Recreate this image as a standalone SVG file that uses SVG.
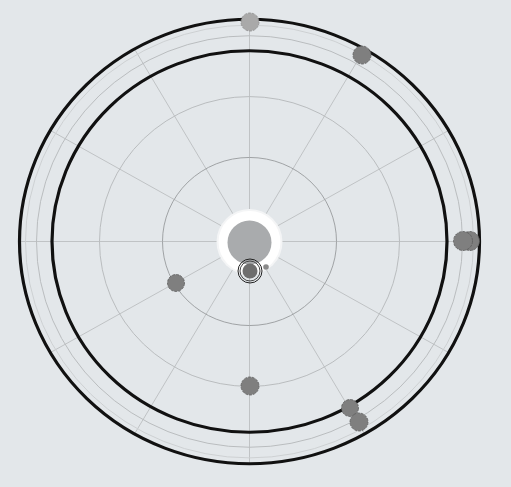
<svg xmlns="http://www.w3.org/2000/svg" width="511" height="487" viewBox="0 0 511 487">
<style>
.ring{fill:none;stroke:#111;stroke-width:3.2}
.thin{fill:none;stroke:#b9bcbe;stroke-width:1}
.spoke{stroke:#bfc2c4;stroke-width:1}
.dot{fill:#7f7f7f;stroke:#5c5c5c;stroke-width:0.8;stroke-dasharray:3 1}
.faded{fill:#a9a9a9;stroke:#8a8a8a;stroke-width:0.8;stroke-dasharray:3 1}
</style>
<rect width="511" height="487" fill="#e3e7ea"/>
<g id="grid" transform="translate(249.5 241.5) scale(1 0.966)">
<g id="connectors">
<line class="spoke" x1="0" y1="0" x2="230" y2="0"/>
<line class="spoke" x1="0" y1="0" x2="199.2" y2="115"/>
<line class="spoke" x1="0" y1="0" x2="115" y2="199.2"/>
<line class="spoke" x1="0" y1="0" x2="0" y2="230"/>
<line class="spoke" x1="0" y1="0" x2="-115" y2="199.2"/>
<line class="spoke" x1="0" y1="0" x2="-199.2" y2="115"/>
<line class="spoke" x1="0" y1="0" x2="-230" y2="0"/>
<line class="spoke" x1="0" y1="0" x2="-199.2" y2="-115"/>
<line class="spoke" x1="0" y1="0" x2="-115" y2="-199.2"/>
<line class="spoke" x1="0" y1="0" x2="0" y2="-230"/>
<line class="spoke" x1="0" y1="0" x2="115" y2="-199.2"/>
<line class="spoke" x1="0" y1="0" x2="199.2" y2="-115"/>
</g>
<circle class="thin" r="87" style="stroke:#9ea1a3"/>
<circle class="thin" r="150"/>
<circle class="thin" r="213"/>
<circle class="thin" r="224" style="stroke:#cdd0d2"/>
<circle class="ring" r="197.5"/>
<circle class="ring" r="230"/>
</g>
<g id="center">
<circle cx="249.5" cy="242" r="33" fill="#f4f5f6"/>
<circle cx="249.5" cy="242" r="31" fill="#ffffff"/>
<circle cx="249.5" cy="242.5" r="22" fill="#a9abad"/>
</g>
<g id="node-inner">
<circle cx="250" cy="271" r="12" fill="none" stroke="#222" stroke-width="1"/>
<circle cx="250" cy="271" r="10" fill="none" stroke="#444" stroke-width="1"/>
<circle cx="250" cy="271" r="7.5" fill="#6e6e6e"/>
</g>
<g id="node-tiny"><circle cx="266" cy="267" r="2.8" fill="#8a8a8a"/></g>
<g id="node-top"><circle class="faded" cx="250" cy="22" r="9"/></g>
<g id="node-ne"><circle class="dot" cx="362" cy="55" r="9"/></g>
<g id="node-e2"><circle class="dot" cx="470" cy="241" r="9.5"/></g>
<g id="node-e1"><circle class="dot" cx="463" cy="241" r="9.5"/></g>
<g id="node-se1"><circle class="dot" cx="350" cy="408" r="8.5"/></g>
<g id="node-se2"><circle class="dot" cx="359" cy="422" r="9"/></g>
<g id="node-w"><circle class="dot" cx="176" cy="283" r="8.5"/></g>
<g id="node-s"><circle class="dot" cx="250" cy="386" r="9"/></g>
</svg>
